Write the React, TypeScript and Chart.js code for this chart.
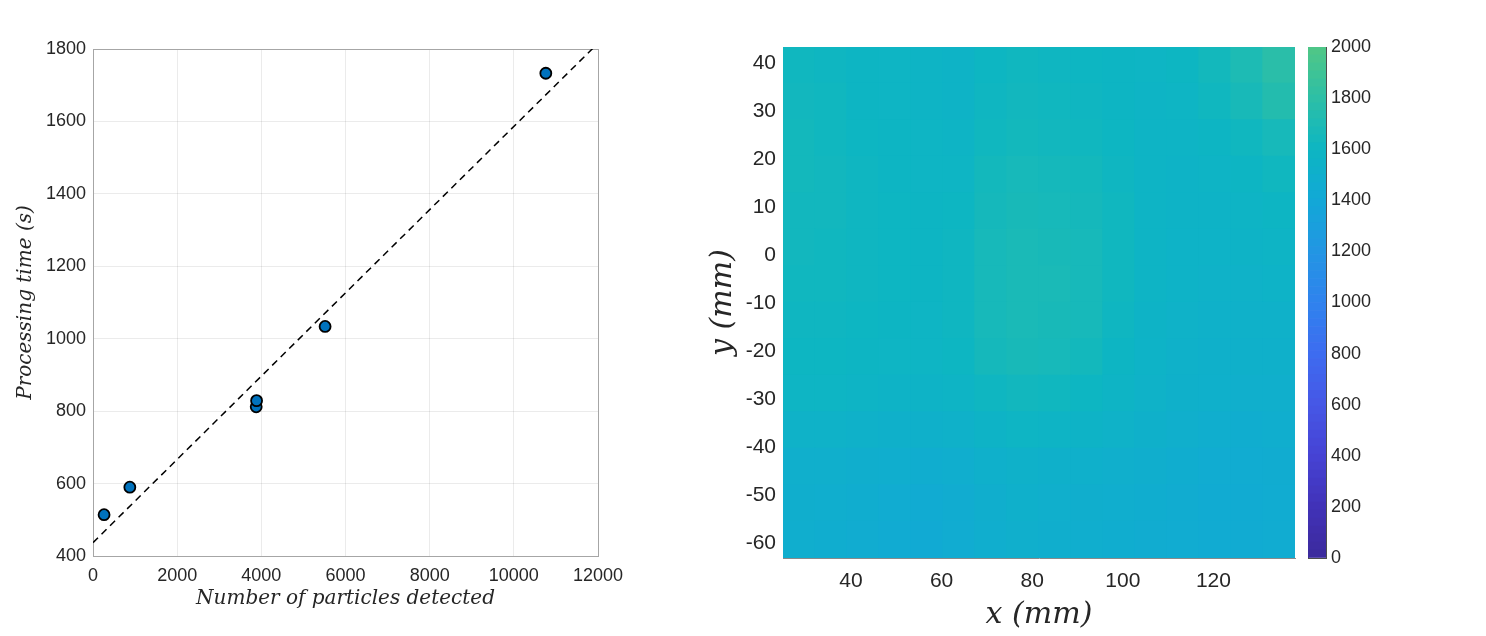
import React, { useEffect, useRef } from 'react';
import { Chart, registerables } from 'chart.js';
Chart.register(...registerables);

// ---------- Left panel: processing time vs particles ----------
const particleCounts = [263, 875, 3878, 3887, 5515, 10760];
const processingTimes = [514, 590, 812, 829, 1034, 1733];
const fitX = [0, 12000];
const fitY = [437, 1816];

// ---------- Right panel: field map ----------
const heatXRange = [25, 138];
const heatYRange = [-63.1, 43.3];
// rows from top (y = 43) to bottom (y = -63), columns from left (x = 25) to right (x = 138)
const heatValues: number[][] = [
  [1620, 1610, 1590, 1580, 1570, 1560, 1600, 1620, 1610, 1600, 1590, 1580, 1600, 1640, 1700, 1780],
  [1630, 1620, 1590, 1580, 1570, 1560, 1610, 1630, 1620, 1610, 1590, 1570, 1580, 1620, 1670, 1740],
  [1640, 1620, 1600, 1590, 1580, 1570, 1620, 1640, 1630, 1620, 1600, 1570, 1570, 1590, 1620, 1660],
  [1640, 1630, 1610, 1590, 1580, 1580, 1640, 1660, 1650, 1640, 1610, 1570, 1560, 1570, 1590, 1620],
  [1630, 1630, 1610, 1600, 1590, 1600, 1650, 1670, 1660, 1650, 1620, 1570, 1560, 1560, 1570, 1590],
  [1630, 1620, 1610, 1600, 1590, 1610, 1660, 1680, 1670, 1660, 1620, 1570, 1550, 1550, 1560, 1570],
  [1620, 1620, 1610, 1600, 1590, 1610, 1660, 1680, 1680, 1660, 1620, 1570, 1550, 1540, 1540, 1550],
  [1610, 1610, 1600, 1590, 1580, 1610, 1660, 1680, 1670, 1660, 1610, 1560, 1540, 1530, 1530, 1530],
  [1600, 1600, 1590, 1580, 1580, 1600, 1650, 1670, 1660, 1640, 1590, 1550, 1530, 1520, 1520, 1520],
  [1580, 1580, 1570, 1560, 1560, 1570, 1610, 1630, 1620, 1600, 1570, 1540, 1520, 1510, 1500, 1500],
  [1540, 1540, 1530, 1520, 1520, 1530, 1560, 1580, 1570, 1560, 1540, 1520, 1500, 1480, 1470, 1480],
  [1500, 1500, 1490, 1480, 1470, 1480, 1510, 1530, 1520, 1510, 1500, 1490, 1470, 1450, 1450, 1460],
  [1490, 1480, 1470, 1450, 1440, 1460, 1490, 1510, 1500, 1490, 1480, 1470, 1460, 1440, 1440, 1450],
  [1480, 1470, 1460, 1440, 1430, 1450, 1480, 1500, 1490, 1480, 1470, 1460, 1450, 1440, 1440, 1450],
];

// colour map (parula-like, truncated) and colour bar
const cmapValues = [0, 200, 400, 600, 800, 1000, 1200, 1400, 1600, 1800, 2000];
const cmapColors = ['#3c2a9c', '#4132b8', '#4643d4', '#4657e6', '#3d6cf0', '#2f83ee', '#2296e3', '#12a8d6', '#0db6c2', '#2dbfa6', '#51c785'];
const cbarRange = [0, 2000];
const cbarSteps = 64;

const TICK_COLOR = '#262626';
const SANS = "'Liberation Sans', Arial, Helvetica, sans-serif";
const SERIF = "'DejaVu Serif', 'Liberation Serif', serif";
const plain = (v: any) => String(v);

function hexToRgb(h: string) {
  const n = parseInt(h.slice(1), 16);
  return [(n >> 16) & 255, (n >> 8) & 255, n & 255];
}
function colorFor(v: number) {
  if (v <= cmapValues[0]) return cmapColors[0];
  for (let i = 1; i < cmapValues.length; i++) {
    if (v <= cmapValues[i]) {
      const t = (v - cmapValues[i - 1]) / (cmapValues[i] - cmapValues[i - 1]);
      const a = hexToRgb(cmapColors[i - 1]);
      const b = hexToRgb(cmapColors[i]);
      const c = a.map((x, k) => Math.round(x + (b[k] - x) * t));
      return `rgb(${c[0]},${c[1]},${c[2]})`;
    }
  }
  return cmapColors[cmapColors.length - 1];
}

export default function App() {
  const leftRef = useRef<HTMLCanvasElement>(null);
  const heatRef = useRef<HTMLCanvasElement>(null);
  const cbarRef = useRef<HTMLCanvasElement>(null);

  useEffect(() => {
    const charts: Chart[] = [];
    const gridColor = 'rgba(0,0,0,0.08)';
    const boxColor = '#a6a6a6';

    // ---------- left chart ----------
    charts.push(
      new Chart(leftRef.current!, {
        type: 'scatter',
        data: {
          datasets: [
            {
              label: 'measured',
              data: particleCounts.map((x, i) => ({ x, y: processingTimes[i] })),
              pointRadius: 5.5,
              pointBackgroundColor: '#0072bd',
              pointBorderColor: '#000',
              pointBorderWidth: 1.8,
              showLine: false,
            },
            {
              type: 'line',
              label: 'fit',
              data: fitX.map((x, i) => ({ x, y: fitY[i] })),
              borderColor: '#000',
              borderWidth: 1.5,
              borderDash: [7, 5],
              pointRadius: 0,
              showLine: true,
              fill: false,
            } as any,
          ],
        },
        options: {
          responsive: false,
          animation: false,
          devicePixelRatio: 1,
          layout: { padding: { left: 0, top: 49, right: 42, bottom: 0 } },
          plugins: { legend: { display: false }, tooltip: { enabled: false } },
          scales: {
            x: {
              type: 'linear',
              min: 0,
              max: 12000,
              ticks: { stepSize: 2000, callback: plain, color: TICK_COLOR, font: { family: SANS, size: 18 }, padding: 9, maxRotation: 0, autoSkip: false },
              grid: { color: gridColor, drawTicks: false },
              border: { color: boxColor, width: 1 },
              title: {
                display: true,
                text: 'Number of particles detected',
                color: TICK_COLOR,
                font: { family: SERIF, style: 'italic', size: 20 },
                padding: { top: 0, bottom: 25 },
              },
              afterFit: (s: any) => { s.height = 80; },
            },
            y: {
              type: 'linear',
              min: 400,
              max: 1800,
              ticks: { stepSize: 200, callback: plain, color: TICK_COLOR, font: { family: SANS, size: 18 }, padding: 7 },
              grid: { color: gridColor, drawTicks: false },
              border: { color: boxColor, width: 1 },
              title: {
                display: true,
                text: 'Processing time (s)',
                color: TICK_COLOR,
                font: { family: SERIF, style: 'italic', size: 20 },
                padding: { top: 14, bottom: 0 },
              },
              afterFit: (s: any) => { s.width = 93; },
            },
            x2: {
              type: 'linear', position: 'top', min: 0, max: 12000, display: true,
              ticks: { display: false }, grid: { display: false }, border: { color: boxColor, width: 1 },
              afterFit: (s: any) => { s.height = 0; },
            },
            y2: {
              type: 'linear', position: 'right', min: 400, max: 1800, display: true,
              ticks: { display: false }, grid: { display: false }, border: { color: boxColor, width: 1 },
              afterFit: (s: any) => { s.width = 0; },
            },
          },
        } as any,
      })
    );

    // ---------- heat map ----------
    const nRows = heatValues.length;
    const nCols = heatValues[0].length;
    const dx = (heatXRange[1] - heatXRange[0]) / nCols;
    const dy = (heatYRange[1] - heatYRange[0]) / nRows;
    const cells: any[] = [];
    const cellColors: string[] = [];
    heatValues.forEach((row, r) => {
      row.forEach((v, c) => {
        const top = heatYRange[1] - r * dy;
        cells.push({ x: heatXRange[0] + (c + 0.5) * dx, y: [top - dy, top] });
        cellColors.push(colorFor(v));
      });
    });

    charts.push(
      new Chart(heatRef.current!, {
        type: 'bar',
        data: {
          datasets: [
            {
              label: 'field',
              data: cells,
              backgroundColor: cellColors,
              borderWidth: 0,
              inflateAmount: 0.7,
              grouped: false,
              categoryPercentage: 1,
              barPercentage: 1,
            } as any,
          ],
        },
        options: {
          responsive: false,
          animation: false,
          devicePixelRatio: 1,
          layout: { padding: { left: 0, top: 47, right: 5, bottom: 0 } },
          plugins: { legend: { display: false }, tooltip: { enabled: false } },
          scales: {
            x: {
              type: 'linear',
              offset: false,
              min: heatXRange[0],
              max: heatXRange[1],
              ticks: { stepSize: 20, includeBounds: false, callback: plain, color: TICK_COLOR, font: { family: SANS, size: 21 }, padding: 11, maxRotation: 0 },
              grid: { display: false, drawTicks: false },
              border: { color: '#8a8a8a', width: 1 },
              title: {
                display: true,
                text: 'x (mm)',
                color: TICK_COLOR,
                font: { family: SERIF, style: 'italic', size: 30 },
                padding: { top: 0, bottom: 3 },
              },
              afterFit: (s: any) => { s.height = 78; },
            },
            y: {
              type: 'linear',
              min: heatYRange[0],
              max: heatYRange[1],
              ticks: { stepSize: 10, includeBounds: false, callback: plain, color: TICK_COLOR, font: { family: SANS, size: 21 }, padding: 7 },
              grid: { display: false, drawTicks: false },
              border: { display: false },
              title: {
                display: true,
                text: 'y (mm)',
                color: TICK_COLOR,
                font: { family: SERIF, style: 'italic', size: 30 },
                padding: { top: 45, bottom: 0 },
              },
              afterFit: (s: any) => { s.width = 123; },
            },
          },
        } as any,
      })
    );

    // ---------- colour bar ----------
    const step = (cbarRange[1] - cbarRange[0]) / cbarSteps;
    const cbarSets: any[] = [];
    for (let i = 0; i < cbarSteps; i++) {
      const lo = cbarRange[0] + i * step;
      cbarSets.push({
        label: 'c' + i,
        data: [[lo, lo + step]],
        backgroundColor: colorFor(lo + step / 2),
        borderWidth: 0,
        grouped: false,
        categoryPercentage: 1,
        barPercentage: 1,
      });
    }
    const cbBorder = '#4d4d4d';
    charts.push(
      new Chart(cbarRef.current!, {
        type: 'bar',
        data: { labels: [''], datasets: cbarSets },
        options: {
          responsive: false,
          animation: false,
          devicePixelRatio: 1,
          layout: { padding: { left: 8, top: 47, right: 0, bottom: 78 } },
          plugins: { legend: { display: false }, tooltip: { enabled: false } },
          scales: {
            x: {
              display: true,
              ticks: { display: false },
              grid: { display: false },
              border: { color: cbBorder, width: 1 },
              afterFit: (s: any) => { s.height = 0; },
            },
            xt: {
              type: 'category', labels: [''], position: 'top', display: true,
              ticks: { display: false }, grid: { display: false }, border: { color: cbBorder, width: 1 },
              afterFit: (s: any) => { s.height = 0; },
            },
            y: {
              type: 'linear',
              position: 'right',
              min: cbarRange[0],
              max: cbarRange[1],
              ticks: { stepSize: 200, callback: plain, color: TICK_COLOR, font: { family: SANS, size: 18 }, padding: 9 },
              grid: { display: true, drawOnChartArea: false, drawTicks: true, tickLength: -4, color: cbBorder },
              border: { color: cbBorder, width: 1 },
              afterFit: (s: any) => { s.width = 160; },
            },
            yl: {
              type: 'linear', position: 'left', min: cbarRange[0], max: cbarRange[1], display: true,
              ticks: { display: false }, grid: { display: false }, border: { color: cbBorder, width: 1 },
              afterFit: (s: any) => { s.width = 0; },
            },
          },
        } as any,
      })
    );

    return () => charts.forEach((c) => c.destroy());
  }, []);

  return (
    <div style={{ position: 'absolute', left: 0, top: 0, width: 1486, height: 636, background: '#fff', overflow: 'hidden' }}>
      <canvas ref={leftRef} width={640} height={636} style={{ position: 'absolute', left: 0, top: 0, width: 640, height: 636 }} />
      <canvas ref={heatRef} width={640} height={636} style={{ position: 'absolute', left: 660, top: 0, width: 640, height: 636 }} />
      <canvas ref={cbarRef} width={186} height={636} style={{ position: 'absolute', left: 1300, top: 0, width: 186, height: 636 }} />
    </div>
  );
}
